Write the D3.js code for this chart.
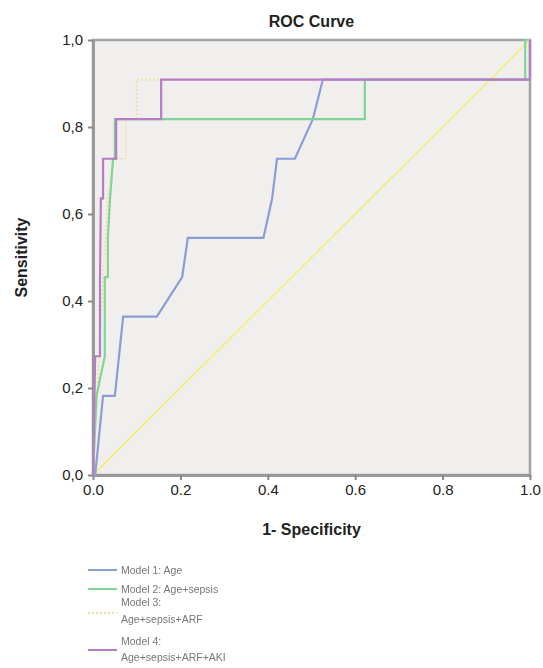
<!DOCTYPE html>
<html>
<head>
<meta charset="utf-8">
<script src="https://cdn.jsdelivr.net/npm/d3@7"></script>
<style>
  html, body { margin: 0; padding: 0; background: #fff; }
  svg { display: block; font-family: "Liberation Sans", Arial, sans-serif; }
</style>
</head>
<body>
<svg id="chart" width="543" height="668"></svg>
<script>
// ROC curves: [1 - specificity, sensitivity] vertices for each model
const model1 = [[0,0],[0.005,0],[0.023,0.182],[0.05,0.182],[0.069,0.364],[0.146,0.364],[0.204,0.455],[0.217,0.545],[0.39,0.545],[0.41,0.636],[0.421,0.727],[0.462,0.727],[0.503,0.818],[0.526,0.909],[1,0.909],[1,1]];
const model2 = [[0,0],[0.008,0.182],[0.027,0.273],[0.027,0.455],[0.034,0.455],[0.034,0.545],[0.039,0.636],[0.046,0.727],[0.05,0.727],[0.05,0.818],[0.622,0.818],[0.622,0.909],[0.989,0.909],[0.989,1],[1,1]];
const model3 = [[0,0],[0.01,0.182],[0.023,0.455],[0.034,0.636],[0.046,0.727],[0.075,0.727],[0.075,0.818],[0.1,0.818],[0.1,0.909],[1,0.909],[1,1]];
const model4 = [[0,0],[0.005,0.273],[0.016,0.273],[0.016,0.455],[0.018,0.636],[0.023,0.636],[0.023,0.727],[0.053,0.727],[0.053,0.818],[0.156,0.818],[0.156,0.909],[1,0.909],[1,1]];
const referenceLine = [[0,0],[1,1]];

const seriesNames = ["Model 1: Age", "Model 2: Age+sepsis", "Model 3:\nAge+sepsis+ARF", "Model 4:\nAge+sepsis+ARF+AKI"];
const seriesColors = ["#8c9dd6", "#82d496", "#e8e29a", "#b67cc4"];
const seriesDash = [null, null, "2,2", null];

const xTicks = [0, 0.2, 0.4, 0.6, 0.8, 1.0];
const xTickLabels = ["0.0", "0.2", "0.4", "0.6", "0.8", "1.0"];
const yTicks = [0, 0.2, 0.4, 0.6, 0.8, 1.0];
const yTickLabels = ["0,0", "0,2", "0,4", "0,6", "0,8", "1,0"];

const svg = d3.select("#chart");
const plot = { left: 93, right: 530, top: 40, bottom: 475 };

const x = d3.scaleLinear().domain([0, 1]).range([plot.left, plot.right]);
const y = d3.scaleLinear().domain([0, 1]).range([plot.bottom, plot.top]);

// plot background
svg.append("rect")
  .attr("x", plot.left).attr("y", plot.top)
  .attr("width", plot.right - plot.left).attr("height", plot.bottom - plot.top)
  .attr("fill", "#f0efee");

// frame
svg.append("rect")
  .attr("x", plot.left).attr("y", plot.top)
  .attr("width", plot.right - plot.left).attr("height", plot.bottom - plot.top)
  .attr("fill", "none").attr("stroke", "#a3a3a3").attr("stroke-width", 2.5);

// axes
const xAxis = d3.axisBottom(x).tickValues(xTicks)
  .tickFormat((d, i) => xTickLabels[i]).tickSize(5).tickSizeOuter(0).tickPadding(4);
const yAxis = d3.axisLeft(y).tickValues(yTicks)
  .tickFormat((d, i) => yTickLabels[i]).tickSize(5).tickSizeOuter(0).tickPadding(5);

const gx = svg.append("g").attr("transform", `translate(0,${plot.bottom})`).call(xAxis);
const gy = svg.append("g").attr("transform", `translate(${plot.left},0)`).call(yAxis);
[gx, gy].forEach(g => {
  g.select(".domain").attr("stroke", "#999").attr("stroke-width", 3);
  g.selectAll(".tick line").attr("stroke", "#8a8a8a").attr("stroke-width", 2);
  g.selectAll(".tick text").attr("fill", "#222").attr("font-size", 15)
    .attr("font-family", "'Liberation Sans', Arial, sans-serif");
});

// reference diagonal
const line = d3.line().x(d => x(d[0])).y(d => y(d[1]));
svg.append("path").datum(referenceLine)
  .attr("d", line).attr("fill", "none")
  .attr("stroke", "#f3ed84").attr("stroke-width", 1.8);

// model curves
const models = [model1, model2, model3, model4];
const drawOrder = [0, 2, 1, 3];
drawOrder.forEach(i => {
  svg.append("path").datum(models[i])
    .attr("d", line).attr("fill", "none")
    .attr("stroke", seriesColors[i])
    .attr("stroke-width", i === 2 ? 1.6 : 2.2)
    .attr("stroke-dasharray", seriesDash[i])
    .attr("stroke-linejoin", "miter");
});

// title and axis titles
svg.append("text").attr("x", (plot.left + plot.right) / 2).attr("y", 27)
  .attr("text-anchor", "middle").attr("font-size", 16).attr("font-weight", "bold")
  .attr("fill", "#222").text("ROC Curve");
svg.append("text").attr("x", (plot.left + plot.right) / 2).attr("y", 535)
  .attr("text-anchor", "middle").attr("font-size", 16).attr("font-weight", "bold")
  .attr("fill", "#222").text("1- Specificity");
svg.append("text")
  .attr("transform", `translate(27,${(plot.top + plot.bottom) / 2}) rotate(-90)`)
  .attr("text-anchor", "middle").attr("font-size", 16).attr("font-weight", "bold")
  .attr("fill", "#222").text("Sensitivity");

// legend
const legendRows = [
  { lineY: 570, textY: [574] },
  { lineY: 589, textY: [593] },
  { lineY: 613, textY: [606, 623] },
  { lineY: 650, textY: [645, 661] }
];
const defs = svg.append("defs");
defs.append("filter").attr("id", "soft")
  .append("feGaussianBlur").attr("stdDeviation", 0.45);
const legend = svg.append("g").attr("filter", "url(#soft)");

legendRows.forEach((row, i) => {
  legend.append("line")
    .attr("x1", 88).attr("x2", 117).attr("y1", row.lineY).attr("y2", row.lineY)
    .attr("stroke", seriesColors[i]).attr("stroke-width", 2)
    .attr("stroke-dasharray", seriesDash[i]);
  const parts = seriesNames[i].split("\n");
  parts.forEach((p, j) => {
    legend.append("text").attr("x", 121).attr("y", row.textY[j])
      .attr("font-size", 10.5).attr("fill", "#777").text(p);
  });
});
</script>
</body>
</html>
